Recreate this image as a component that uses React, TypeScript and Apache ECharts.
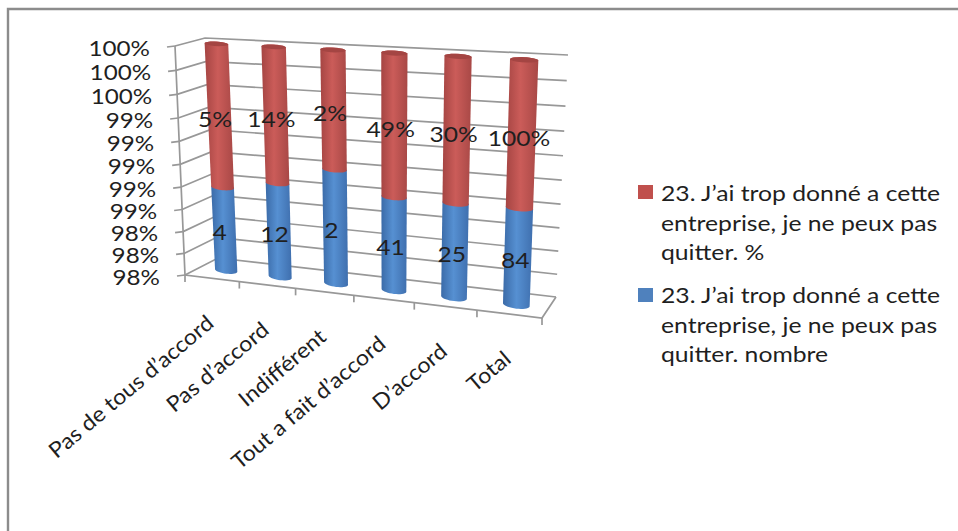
import React, { useEffect, useRef } from "react";
import * as echarts from "echarts";

// Survey question 23: counts and percentages per answer, drawn as a 100% stacked cylinder column chart.
const categories = ["Pas de tous d’accord", "Pas d’accord", "Indifférent", "Tout a fait d’accord", "D’accord", "Total"];
const counts = [4, 12, 2, 41, 25, 84];
const percents = [5, 14, 2, 49, 30, 100];
const axisTicks = [98, 98.2, 98.4, 98.6, 98.8, 99, 99.2, 99.4, 99.6, 99.8, 100];
const legendItems = [
  { name: "23. J’ai trop donné a cette\nentreprise, je ne peux pas\nquitter. %", color: "#c0504d" },
  { name: "23. J’ai trop donné a cette\nentreprise, je ne peux pas\nquitter. nombre", color: "#4f81bd" },
];

const FONT = "Lato";
const TEXT = "#1f1f1f";
const GRID_LINE = "#989898";

// Share of the blue segment in the percent-stacked column, on the 98-100 axis.
const shares = counts.map((c, i) => (c / (c + percents[i] / 100)) * 100);
const blueRows = counts.map((c, i) => [i, 98, shares[i], c]);
const redRows = percents.map((p, i) => [i, shares[i], 100, p]);

// The hidden cartesian grid supplies the scales; this maps its unit square into the oblique box.
const GRID = { left: 185, top: 46, width: 357, height: 229 };
const box = {
  fbl: [185, 275], fbr: [542, 318], bbl: [218, 258], bbr: [556, 297],
  ftl: [175, 46], ftr: [550, 67], btl: [205, 38], btr: [568, 55],
};
const FORESHORTEN_X = 1.114;
const FORESHORTEN_Y = 1.07;
const BAR_DEPTH = 0.45;
const LABEL_DEPTH = 0.3;

const mix = (a: number[], b: number[], t: number) => [a[0] + (b[0] - a[0]) * t, a[1] + (b[1] - a[1]) * t];
function project(u: number, v: number, d: number) {
  const f = u / (u + FORESHORTEN_X * (1 - u));
  const g = v / (v + FORESHORTEN_Y * (1 - v));
  const frontBottom = mix(box.fbl, box.fbr, f);
  const backBottom = mix(box.bbl, box.bbr, f);
  const frontTop = mix(box.ftl, box.ftr, f);
  const backTop = mix(box.btl, box.btr, f);
  return mix(mix(frontBottom, frontTop, g), mix(backBottom, backTop, g), d);
}
function unit(api: any, cat: number, val: number) {
  const p = api.coord([cat, val]);
  return [(p[0] - GRID.left) / GRID.width, (GRID.top + GRID.height - p[1]) / GRID.height];
}
function arc(c: number[], hw: number[], ry: number, from: number, to: number) {
  const pts: number[][] = [];
  const n = 18;
  for (let k = 0; k <= n; k++) {
    const t = from + ((to - from) * k) / n;
    pts.push([c[0] + hw[0] * Math.cos(t), c[1] + hw[1] * Math.cos(t) + ry * Math.sin(t)]);
  }
  return pts;
}
function cylinderGeometry(u: number, v: number) {
  const half = 0.035;
  const l = project(u - half, v, BAR_DEPTH);
  const r = project(u + half, v, BAR_DEPTH);
  const c = [(l[0] + r[0]) / 2, (l[1] + r[1]) / 2];
  const hw = [(r[0] - l[0]) / 2, (r[1] - l[1]) / 2];
  // The ellipses flatten toward the top of the box, as the viewpoint nears that height.
  return { c, hw, ry: Math.abs(hw[0]) * (0.29 - 0.1 * v) };
}
function sideGradient(edgeL: string, mid: string, edgeR: string) {
  return new echarts.graphic.LinearGradient(0, 0, 1, 0, [
    { offset: 0, color: edgeL },
    { offset: 0.45, color: mid },
    { offset: 1, color: edgeR },
  ]);
}

function cylinderItem(colors: string[], capColor: string | null) {
  return (_: any, api: any) => {
    const cat = api.value(0);
    const [u0, v0] = unit(api, cat, api.value(1));
    const [, v1] = unit(api, cat, api.value(2));
    const bottom = cylinderGeometry(u0, v0);
    const top = cylinderGeometry(u0, v1);
    const outline = [
      ...arc(top.c, top.hw, top.ry, Math.PI, 2 * Math.PI),
      ...arc(bottom.c, bottom.hw, bottom.ry, 0, Math.PI),
    ];
    const children: any[] = [
      {
        type: "polygon",
        shape: { points: outline },
        style: { fill: sideGradient(colors[0], colors[1], colors[2]) },
      },
    ];
    if (capColor) {
      children.push({
        type: "polygon",
        shape: { points: arc(top.c, top.hw, top.ry, 0, 2 * Math.PI) },
        style: { fill: capColor },
      });
    }
    const mid = project(u0, (v0 + v1) / 2, LABEL_DEPTH);
    children.push({
      type: "text",
      x: mid[0],
      y: mid[1],
      scaleX: 1.12,
      style: {
        text: capColor ? `${api.value(3)}%` : `${api.value(3)}`,
        font: `22px ${FONT}`,
        fill: TEXT,
        align: "center",
        verticalAlign: "middle",
      },
    });
    return { type: "group", children };
  };
}

function wallItem(_: any, api: any) {
  const val = api.value(0);
  const [, v] = unit(api, 0, val);
  const a = project(0, v, 0);
  const b = project(0, v, 1);
  const c = project(1, v, 1);
  const line = { stroke: GRID_LINE, lineWidth: 1.7, fill: "none" };
  return {
    type: "group",
    children: [
      { type: "polyline", shape: { points: [a, b, c] }, style: line },
      { type: "line", shape: { x1: a[0] - 8, y1: a[1] + 1, x2: a[0], y2: a[1] }, style: line },
      {
        type: "text",
        x: a[0] - 25,
        y: a[1] + 1,
        scaleX: 1.1,
        style: {
          text: `${Math.round(val)}%`,
          font: `22px ${FONT}`,
          fill: TEXT,
          align: "right",
          verticalAlign: "middle",
        },
      },
    ],
  };
}

function categoryItem(params: any, api: any) {
  const i = params.dataIndex;
  const [u] = unit(api, i, 98);
  const band = api.size([1, 0])[0] / GRID.width;
  const anchor = project(u, 0, 0);
  const tick = project(u + band / 2, 0, 0);
  const line = { stroke: GRID_LINE, lineWidth: 1.7, fill: "none" };
  return {
    type: "group",
    children: [
      { type: "line", shape: { x1: tick[0], y1: tick[1], x2: tick[0], y2: tick[1] + 7 }, style: line },
      {
        type: "text",
        x: anchor[0] - 2,
        y: anchor[1] + 41,
        rotation: 0.7,
        scaleX: 1.08,
        style: {
          text: categories[i],
          font: `21.5px ${FONT}`,
          fill: TEXT,
          align: "right",
          verticalAlign: "middle",
        },
      },
    ],
  };
}

function floorItem() {
  const fl = project(0, 0, 0);
  const fr = project(1, 0, 0);
  const br = project(1, 0, 1);
  const top = project(0, 1, 0);
  const line = { stroke: GRID_LINE, lineWidth: 1.7, fill: "none" };
  return {
    type: "group",
    children: [
      { type: "polyline", shape: { points: [top, fl, fr, br] }, style: line },
      { type: "line", shape: { x1: fl[0], y1: fl[1], x2: fl[0], y2: fl[1] + 7 }, style: line },
    ],
  };
}

const legendGraphics = legendItems.flatMap((item, i) => {
  const top = 185 + i * 103;
  return [
    { type: "rect", shape: { x: 638, y: top, width: 15, height: 14 }, style: { fill: item.color } },
    {
      type: "text",
      x: 661,
      y: top - 7 - i,
      scaleX: 1.15,
      style: { text: item.name, font: `21.5px ${FONT}`, fill: TEXT, lineHeight: 29.5, align: "left", verticalAlign: "top" },
    },
  ];
});

export default function App() {
  const ref = useRef<HTMLDivElement>(null);
  useEffect(() => {
    document.body.style.margin = "0";
    const chart = echarts.init(ref.current!, undefined, { renderer: "svg" });
    chart.setOption({
      animation: false,
      backgroundColor: "#ffffff",
      grid: { ...GRID, containLabel: false },
      xAxis: { type: "category", data: categories, show: false },
      yAxis: { type: "value", min: 98, max: 100, interval: 0.2, show: false },
      graphic: [
        {
          type: "polyline",
          shape: { points: [[8, 531], [8, 9], [958, 9]] },
          style: { stroke: "#8c8c8c", lineWidth: 2.4, fill: "none" },
        },
        ...legendGraphics,
      ],
      series: [
        { type: "custom", silent: true, clip: false, data: axisTicks.map((t) => [t]), encode: { y: 0 }, renderItem: wallItem, z: 1 },
        { type: "custom", silent: true, clip: false, data: [[0, 98]], encode: { x: 0, y: 1 }, renderItem: floorItem, z: 1 },
        { type: "custom", silent: true, clip: false, data: categories.map((_, i) => [i, 98]), encode: { x: 0, y: 1 }, renderItem: categoryItem, z: 1 },
        {
          type: "custom", silent: true, clip: false, data: blueRows, encode: { x: 0, y: [1, 2] }, z: 2,
          renderItem: cylinderItem(["#3b6ba8", "#5690d2", "#3f6fae"], null),
        },
        {
          type: "custom", silent: true, clip: false, data: redRows, encode: { x: 0, y: [1, 2] }, z: 3,
          renderItem: cylinderItem(["#a54543", "#cb5c59", "#a84846"], "#a44543"),
        },
      ],
    });
    return () => chart.dispose();
  }, []);
  return <div ref={ref} style={{ width: 958, height: 531 }} />;
}
